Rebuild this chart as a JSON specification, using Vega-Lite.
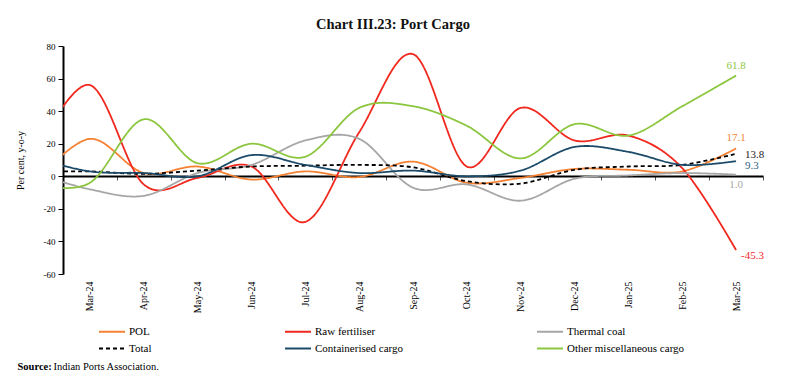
{
  "$schema": "https://vega.github.io/schema/vega-lite/v6.json",
  "background": "white",
  "padding": {"left": 15, "top": 16, "right": 5, "bottom": 5},
  "config": {
    "font": "Liberation Serif",
    "view": {"stroke": null},
    "locale": {"number": {"decimal": ".", "thousands": ",", "grouping": [3], "currency": ["", ""], "minus": "-"}},
    "axis": {"grid": false, "labelFont": "Liberation Serif", "titleFont": "Liberation Serif", "labelColor": "#000", "titleColor": "#000"},
    "axisY": {"labelOverlap": false},
    "legend": {"labelFont": "Liberation Serif"}
  },
  "title": {"text": "Chart III.23: Port Cargo", "font": "Liberation Serif", "fontSize": 14.5, "fontWeight": "bold", "anchor": "middle", "dx": -20, "offset": 10, "color": "#111"},
  "width": 700,
  "height": 228,
  "data": {"values": [
    {"i": -1, "m": "Feb-24", "POL": -3, "Raw fertiliser": 15, "Thermal coal": 1.5, "Total": 2.8, "Containerised cargo": 11, "Other miscellaneous cargo": -5},
    {"i": 0, "m": "Mar-24", "POL": 23, "Raw fertiliser": 56, "Thermal coal": -8, "Total": 3, "Containerised cargo": 3, "Other miscellaneous cargo": -4},
    {"i": 1, "m": "Apr-24", "POL": 2, "Raw fertiliser": -5, "Thermal coal": -12, "Total": 1.5, "Containerised cargo": 2, "Other miscellaneous cargo": 35},
    {"i": 2, "m": "May-24", "POL": 6, "Raw fertiliser": -1, "Thermal coal": 2, "Total": 3.5, "Containerised cargo": 0, "Other miscellaneous cargo": 8},
    {"i": 3, "m": "Jun-24", "POL": -2, "Raw fertiliser": 6, "Thermal coal": 7, "Total": 6, "Containerised cargo": 13, "Other miscellaneous cargo": 20},
    {"i": 4, "m": "Jul-24", "POL": 3, "Raw fertiliser": -28, "Thermal coal": 22, "Total": 6.5, "Containerised cargo": 7, "Other miscellaneous cargo": 12},
    {"i": 5, "m": "Aug-24", "POL": -0.5, "Raw fertiliser": 27, "Thermal coal": 23, "Total": 7, "Containerised cargo": 2, "Other miscellaneous cargo": 42},
    {"i": 6, "m": "Sep-24", "POL": 9, "Raw fertiliser": 75, "Thermal coal": -7, "Total": 5.5, "Containerised cargo": 3.5, "Other miscellaneous cargo": 43},
    {"i": 7, "m": "Oct-24", "POL": -4, "Raw fertiliser": 6, "Thermal coal": -5, "Total": -3, "Containerised cargo": 0, "Other miscellaneous cargo": 31},
    {"i": 8, "m": "Nov-24", "POL": -1, "Raw fertiliser": 42, "Thermal coal": -15, "Total": -4.5, "Containerised cargo": 3.5, "Other miscellaneous cargo": 11},
    {"i": 9, "m": "Dec-24", "POL": 4.5, "Raw fertiliser": 22, "Thermal coal": -1.5, "Total": 4, "Containerised cargo": 18, "Other miscellaneous cargo": 32},
    {"i": 10, "m": "Jan-25", "POL": 4, "Raw fertiliser": 25, "Thermal coal": 0.5, "Total": 6, "Containerised cargo": 15, "Other miscellaneous cargo": 25},
    {"i": 11, "m": "Feb-25", "POL": 3, "Raw fertiliser": 5, "Thermal coal": 2, "Total": 7, "Containerised cargo": 7, "Other miscellaneous cargo": 43},
    {"i": 12, "m": "Mar-25", "POL": 17.1, "Raw fertiliser": -45.3, "Thermal coal": 1.0, "Total": 13.8, "Containerised cargo": 9.3, "Other miscellaneous cargo": 61.8}
  ]},
  "transform": [
    {"fold": ["POL", "Raw fertiliser", "Thermal coal", "Total", "Containerised cargo", "Other miscellaneous cargo"], "as": ["series", "value"]}
  ],
  "encoding": {
    "x": {"field": "i", "type": "quantitative", "scale": {"domain": [-0.5, 12.5], "nice": false, "zero": false}},
    "y": {"field": "value", "type": "quantitative", "scale": {"domain": [-60, 80], "nice": false}, "axis": {
      "title": "Per cent, y-o-y", "values": [-60, -40, -20, 0, 20, 40, 60, 80], "labelOverlap": false,
      "domainColor": "#000", "domainWidth": 2, "tickColor": "#000", "tickSize": 5,
      "labelFontSize": 9, "labelPadding": 3, "titleFontSize": 10, "titleFontWeight": "normal", "titlePadding": 18
    }},
    "color": {
      "field": "series", "type": "nominal",
      "scale": {
        "domain": ["POL", "Raw fertiliser", "Thermal coal", "Total", "Containerised cargo", "Other miscellaneous cargo"],
        "range": ["#F58233", "#F0281E", "#A6A6A6", "#000000", "#1B4B68", "#8CC63F"]
      }
    }
  },
  "layer": [
    {
      "mark": {"type": "line", "interpolate": "cardinal", "strokeWidth": 1.8, "clip": true},
      "encoding": {
        "x": {"field": "i", "type": "quantitative", "axis": {
          "orient": "bottom",
          "values": [0,1,2,3,4,5,6,7,8,9,10,11,12],
          "labelExpr": "['Mar-24','Apr-24','May-24','Jun-24','Jul-24','Aug-24','Sep-24','Oct-24','Nov-24','Dec-24','Jan-25','Feb-25','Mar-25'][datum.value]",
          "labelAngle": -90, "labelAlign": "right", "labelBaseline": "middle",
          "labelFontSize": 10, "labelPadding": 7, "domain": false, "ticks": false,
          "title": "Indian Ports Association.", "titleFontSize": 10.5, "titleFontWeight": "normal",
          "titleAlign": "left", "titleBaseline": "middle", "titleX": -10, "titleY": 92.4
        }},
        "color": {"field": "series", "type": "nominal", "legend": {
          "title": null, "orient": "none", "direction": "horizontal", "legendX": 35, "legendY": 278, "columns": 3,
          "columnPadding": 129, "rowPadding": 4, "labelFontSize": 11, "labelColor": "#000",
          "symbolType": "M-1,0H3", "symbolSize": 169, "symbolStrokeWidth": 2, "labelOffset": 16
        }},
        "strokeDash": {"field": "series", "type": "nominal", "scale": {
          "domain": ["POL", "Raw fertiliser", "Thermal coal", "Total", "Containerised cargo", "Other miscellaneous cargo"],
          "range": [[1, 0], [1, 0], [1, 0], [4, 3], [1, 0], [1, 0]]
        }}
      }
    },
    {
      "transform": [{"filter": "datum.i == 12 && (datum.series == 'POL' || datum.series == 'Other miscellaneous cargo')"}],
      "mark": {"type": "text", "align": "center", "baseline": "middle", "dy": -10, "fontSize": 11},
      "encoding": {
        "x": {"field": "i", "type": "quantitative", "axis": {
          "orient": "bottom",
          "values": [-0.5, 0.5, 1.5, 2.5, 3.5, 4.5, 5.5, 6.5, 7.5, 8.5, 9.5, 10.5, 11.5, 12.5],
          "offset": -98, "labels": false, "domain": true, "domainColor": "#000", "domainWidth": 2.2,
          "ticks": true, "tickColor": "#555", "tickSize": 4,
          "title": "Source:", "titleFontSize": 10.5, "titleFontWeight": "bold",
          "titleAlign": "left", "titleBaseline": "middle", "titleX": -46, "titleY": 190.4
        }},
        "text": {"field": "value", "type": "quantitative", "format": ".1f"},
        "color": {"field": "series", "type": "nominal", "legend": null}
      }
    },
    {
      "transform": [{"filter": "datum.i == 12 && datum.series == 'Total'"}],
      "mark": {"type": "text", "align": "left", "baseline": "middle", "dx": 9, "dy": 1, "fontSize": 11},
      "encoding": {
        "x": {"field": "i", "type": "quantitative", "axis": null},
        "text": {"field": "value", "type": "quantitative", "format": ".1f"},
        "color": {"value": "#222"}
      }
    },
    {
      "transform": [{"filter": "datum.i == 12 && datum.series == 'Containerised cargo'"}],
      "mark": {"type": "text", "align": "left", "baseline": "middle", "dx": 9, "dy": 5, "fontSize": 11},
      "encoding": {
        "x": {"field": "i", "type": "quantitative", "axis": null},
        "text": {"field": "value", "type": "quantitative", "format": ".1f"},
        "color": {"value": "#2F5F86"}
      }
    },
    {
      "transform": [{"filter": "datum.i == 12 && datum.series == 'Thermal coal'"}],
      "mark": {"type": "text", "align": "center", "baseline": "middle", "dy": 10, "fontSize": 11},
      "encoding": {
        "x": {"field": "i", "type": "quantitative", "axis": null},
        "text": {"field": "value", "type": "quantitative", "format": ".1f"},
        "color": {"field": "series", "type": "nominal", "legend": null}
      }
    },
    {
      "transform": [{"filter": "datum.i == 12 && datum.series == 'Raw fertiliser'"}],
      "mark": {"type": "text", "align": "left", "baseline": "middle", "dx": 5, "dy": 6, "fontSize": 11},
      "encoding": {
        "x": {"field": "i", "type": "quantitative", "axis": null},
        "text": {"field": "value", "type": "quantitative", "format": ".1f"},
        "color": {"field": "series", "type": "nominal", "legend": null}
      }
    }
  ],
  "resolve": {"axis": {"x": "independent"}}
}
